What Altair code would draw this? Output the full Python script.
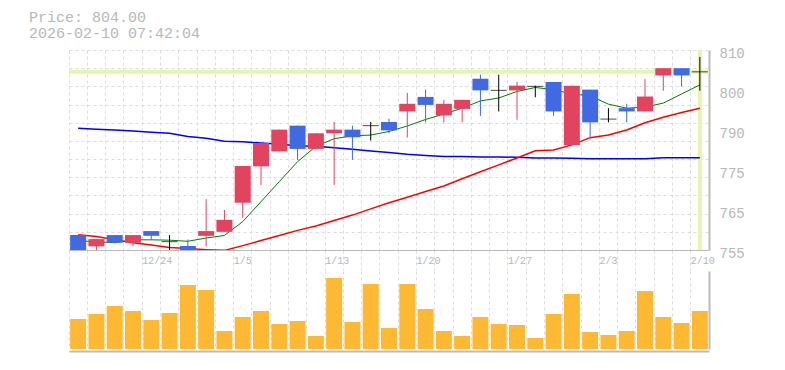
import altair as alt
import pandas as pd

# ---------------- data ----------------
dates = ["12/18", "12/19", "12/22", "12/23", "12/24", "12/25", "12/26", "12/29", "12/30",
         "1/5", "1/6", "1/7", "1/8", "1/9", "1/13", "1/14", "1/15", "1/16", "1/19", "1/20",
         "1/21", "1/22", "1/23", "1/26", "1/27", "1/28", "1/29", "1/30", "2/2", "2/3",
         "2/4", "2/5", "2/6", "2/9", "2/10"]
opens = [759.1, 756.0, 759.1, 757.0, 760.2, 757.3, 756.1, 758.9, 760.0,
         768.0, 778.0, 782.1, 789.2, 782.8, 787.1, 788.1, 789.2, 790.2, 793.1, 797.1,
         792.0, 793.8, 802.1, 798.9, 798.9, 800.0, 801.2, 783.9, 799.1, 791.0,
         794.0, 793.1, 803.0, 805.0, 804.0]
highs = [759.1, 758.0, 759.1, 759.1, 760.2, 759.1, 757.9, 769.0, 766.0,
         778.1, 784.4, 788.1, 789.2, 787.1, 790.2, 789.2, 790.2, 791.1, 798.2, 799.1,
         796.3, 796.3, 803.2, 803.2, 801.2, 800.2, 801.2, 800.2, 799.1, 794.0,
         795.2, 802.0, 805.0, 805.0, 808.1]
lows = [755.0, 755.0, 757.0, 756.1, 757.8, 754.8, 755.0, 756.0, 760.0,
        763.9, 772.9, 782.1, 779.8, 782.8, 772.9, 779.8, 785.1, 787.1, 785.9, 790.1,
        790.1, 790.1, 791.9, 793.1, 790.8, 797.0, 791.9, 783.9, 785.9, 790.1,
        790.1, 793.1, 798.8, 800.0, 798.8]
closes = [755.0, 758.0, 757.0, 759.1, 758.9, 757.3, 755.0, 760.2, 763.3,
          778.1, 784.4, 788.1, 782.8, 787.1, 788.1, 786.0, 789.2, 787.9, 795.2, 794.9,
          795.2, 796.3, 798.9, 798.9, 800.2, 800.0, 793.1, 800.2, 790.1, 791.0,
          793.1, 797.2, 805.0, 803.0, 804.0]
ma_short = [757.5, 757.3, 757.0, 757.8, 757.8, 757.7, 757.4, 758.3, 759.0,
            762.8, 768.3, 773.8, 779.3, 783.5, 785.6, 786.4, 786.6, 787.6, 789.1, 790.9,
            792.4, 794.0, 796.0, 796.8, 798.6, 799.7, 799.1, 797.9, 797.4, 795.1,
            794.0, 794.3, 795.4, 797.9, 800.4]
ma_mid = [759.2, 758.7, 757.8, 757.0, 756.4, 755.7, 755.4, 755.1, 754.9,
          756.2, 757.6, 759.0, 760.4, 761.6, 763.1, 764.6, 766.3, 768.0, 769.5, 771.1,
          772.6, 774.6, 776.5, 778.4, 780.3, 782.3, 782.5, 783.9, 785.9, 786.6,
          788.0, 790.0, 791.5, 792.8, 794.0]
ma_long = [788.5, 788.2, 788.0, 787.7, 787.4, 787.1, 786.2, 785.7, 784.9,
           784.8, 784.4, 784.1, 783.7, 783.5, 783.1, 782.7, 782.2, 781.8, 781.3, 781.0,
           780.7, 780.7, 780.6, 780.6, 780.5, 780.3, 780.3, 780.2, 780.1, 780.1,
           780.1, 780.1, 780.4, 780.4, 780.4]
volume = [30, 35, 43, 38, 29, 36, 64, 59, 18, 32, 38, 25, 28, 13, 71, 27, 65, 21,
          65, 40, 18, 13, 32, 25, 24, 11, 35, 55, 17, 14, 18, 58, 32, 26, 38]
tick_dates = ["12/24", "1/5", "1/13", "1/20", "1/27", "2/3", "2/10"]
price_now = 804.0
title_lines = ["Price: 804.00", "2026-02-10 07:42:04"]
y_label_at = [755, 766, 777, 788, 799, 810]
y_label_text = ["755", "765", "775", "790", "800", "810"]
grid_values = [755, 760, 765, 770, 775, 780, 785, 790, 795, 800, 805, 810]

# ---------------- styles ----------------
RED = "#e2445f"
BLUE = "#4169e1"
YELLOW = "#e4f5b0"
GRID = "#dddddd"
AXIS = "#bbbbbb"
TXT = "#b8b8b8"
FONT = "Liberation Mono"

df = pd.DataFrame({
    "date": dates, "open": opens, "high": highs, "low": lows, "close": closes,
    "ma5": ma_short, "ma25": ma_mid, "ma75": ma_long, "vol": volume,
})
df["dir"] = ["up" if c > o else ("down" if c < o else "even") for o, c in zip(opens, closes)]
df["blo"] = [min(o, c) for o, c in zip(opens, closes)]
df["bhi"] = [max(o, c) for o, c in zip(opens, closes)]

xscale = alt.Scale(paddingInner=0, paddingOuter=0)
label_list = "[" + ",".join("'%s'" % d for d in tick_dates) + "]"
x_axis = alt.Axis(
    title=None, bandPosition=0, labelAngle=0, labelAlign="left", labelOffset=-9,
    labelExpr="indexof(%s, datum.value) >= 0 ? datum.value : ''" % label_list,
    labelFont=FONT, labelFontSize=10, labelColor=TXT, labelPadding=-15,
    ticks=True, tickSize=20, tickColor=GRID, tickDash=[3, 3],
    grid=True, gridColor=GRID, gridDash=[3, 3],
    domainColor=AXIS, domainWidth=1,
)
X = alt.X("date:N", sort=dates, scale=xscale, axis=x_axis)

yscale = alt.Scale(domain=[755, 810], zero=False, nice=False)
grid_axis = alt.Axis(orient="left", values=grid_values, grid=True, gridColor=GRID,
                     gridDash=[3, 3], labels=False, ticks=False, domain=False, title=None)
mapping = " : ".join("datum.value == %d ? '%s'" % (v, t) for v, t in zip(y_label_at, y_label_text))
label_axis = alt.Axis(orient="right", values=y_label_at, labelExpr=mapping + " : ''",
                      grid=False, ticks=False, domain=True, domainColor=AXIS, domainWidth=2,
                      labelFont=FONT, labelFontSize=14, labelColor=TXT, labelPadding=10,
                      labelOffset=3, labelOverlap=False, title=None)

color = alt.Color("dir:N", scale=alt.Scale(domain=["up", "down", "even"],
                                          range=[RED, BLUE, "black"]), legend=None)

base = alt.Chart(df)

hline = alt.Chart(pd.DataFrame({"p": [price_now]})).mark_rule(
    color=YELLOW, strokeWidth=4).encode(
    y=alt.Y("p:Q", scale=yscale, axis=grid_axis))
vline = alt.Chart(pd.DataFrame({"date": [dates[-1]]})).mark_rule(
    color=YELLOW, strokeWidth=4).encode(x=X)

def ma_line(field, col, w):
    return base.mark_line(color=col, strokeWidth=w, clip=True, interpolate="linear").encode(
        x=X, y=alt.Y(field + ":Q", scale=yscale, axis=None))

wicks = base.mark_rule(strokeWidth=1, clip=True).encode(
    x=X, y=alt.Y("low:Q", scale=yscale, axis=None), y2="high:Q", color=color)
bodies = base.transform_filter("datum.dir != 'even'").mark_bar(size=16, clip=True).encode(
    x=X, y=alt.Y("blo:Q", scale=yscale, axis=label_axis), y2="bhi:Q", color=color)
dojis = base.transform_filter("datum.dir == 'even'").mark_tick(
    size=16, thickness=1, color="black", clip=True).encode(
    x=X, y=alt.Y("close:Q", scale=yscale, axis=None))

price = alt.layer(
    hline, vline,
    ma_line("ma75", "#0000ff", 1.5), ma_line("ma25", "#ff0000", 1.5), ma_line("ma5", "#008000", 1),
    wicks, bodies, dojis,
).resolve_axis(y="independent").properties(width=640, height=200)

vol = alt.Chart(df).mark_bar(size=16, color="#fdb934").encode(
    x=alt.X("date:N", sort=dates, scale=xscale,
            axis=alt.Axis(title=None, bandPosition=0, labels=False, ticks=False, grid=True,
                          gridColor=GRID, gridDash=[3, 3], domainColor=AXIS, domainWidth=2,
                          offset=2)),
    y=alt.Y("vol:Q", scale=alt.Scale(domain=[0, 78], nice=False),
            axis=alt.Axis(orient="right", labels=False, ticks=False, grid=False,
                          domainColor=AXIS, domainWidth=2, title=None)),
).properties(width=640, height=78)

chart = alt.vconcat(price, vol, spacing=0).properties(
    title=alt.TitleParams(text=title_lines, anchor="start", font=FONT, fontSize=15,
                          fontWeight="normal", color=TXT, lineHeight=16, dx=-38, offset=5),
    padding={"left": 21, "top": 2, "right": 5, "bottom": 5},
).configure_view(stroke=None)

chart.save("out.html", embed_options={"renderer": "svg", "actions": False})
